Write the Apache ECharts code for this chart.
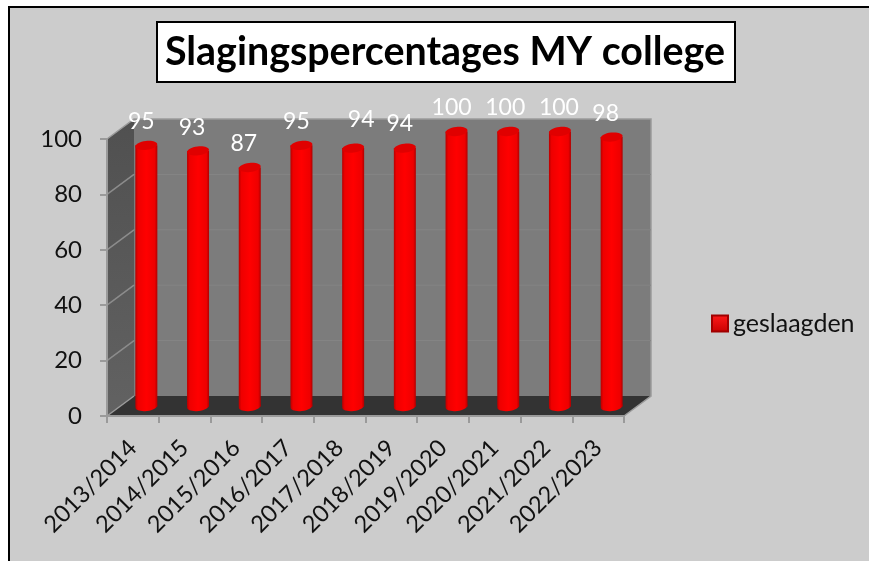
<!DOCTYPE html>
<html>
<head>
<meta charset="utf-8">
<style>html,body{margin:0;background:#fff}#chart{width:869px;height:561px}</style>
<script src="https://cdn.jsdelivr.net/npm/echarts@6/dist/echarts.min.js"></script>
</head>
<body>
<div id="chart"></div>
<script>
const categories = ['2013/2014','2014/2015','2015/2016','2016/2017','2017/2018','2018/2019','2019/2020','2020/2021','2021/2022','2022/2023'];
const geslaagden = [95,93,87,95,94,94,100,100,100,98];
const yTicks = [0,20,40,60,80,100];
// hand moved data labels in the original, [dx, dy] from the top of the bar
const labelNudge = [[-5,-24],[-6,-23],[-6,-24],[-5,-24],[8,-29],[-5,-25],[-5,-24],[-3,-24],[-1,-24],[-6,-23]];

const depthX = 27, depthY = -20;
const barRx = 11, barRy = 4.5;

const mychart = echarts.init(document.getElementById('chart'), null, { renderer: 'canvas' });

const renderWalls = (params, api) => {
    const r = params.coordSys;
    const x0 = r.x, x1 = r.x + r.width, yTop = r.y, yBot = r.y + r.height;
    const children = [
        { type: 'polygon', shape: { points: [[x0,yBot],[x0,yTop],[x0+depthX,yTop+depthY],[x0+depthX,yBot+depthY]] },
          style: { fill: new echarts.graphic.LinearGradient(0,0,0,1,[{offset:0,color:'#505050'},{offset:1,color:'#626262'}]) } },
        { type: 'rect', shape: { x: x0+depthX, y: yTop+depthY, width: r.width, height: r.height },
          style: { fill: '#7c7c7c' } },
        { type: 'polygon', shape: { points: [[x0,yBot],[x1,yBot],[x1+depthX,yBot+depthY],[x0+depthX,yBot+depthY]] },
          style: { fill: '#333333' } },
        { type: 'polyline', shape: { points: [[x0,yTop],[x0+depthX,yTop+depthY],[x1+depthX,yTop+depthY],[x1+depthX,yBot+depthY],[x1,yBot]] },
          style: { stroke: '#9a9a9a', lineWidth: 1.5, fill: 'none' } }
    ];
    yTicks.forEach(t => {
        const y = api.coord([0, t])[1];
        if (t > 0 && t < 100) {
            children.push({ type: 'line', shape: { x1: x0, y1: y, x2: x0+depthX, y2: y+depthY }, style: { stroke: '#8c8c8c', lineWidth: 1.5 } });
            children.push({ type: 'line', shape: { x1: x0+depthX, y1: y+depthY, x2: x1+depthX, y2: y+depthY }, style: { stroke: '#858585', lineWidth: 1 } });
        }
    });
    children.push({ type: 'line', shape: { x1: x0, y1: yBot, x2: x0+depthX, y2: yBot+depthY }, style: { stroke: '#9a9a9a', lineWidth: 1.5 } });
    return { type: 'group', children };
};

const renderBar = (params, api) => {
    const i = api.value(0);
    const top = api.coord([i, api.value(1)]);
    const bottom = api.coord([i, 0]);
    const cx = top[0] + depthX / 2;
    const yT = top[1] - 7.5;
    const yB = bottom[1] - 9.5;
    const nudge = labelNudge[params.dataIndex];
    const body = new echarts.graphic.LinearGradient(0,0,1,0,[
        {offset:0,color:'#b80000'},{offset:0.12,color:'#ee0000'},{offset:0.5,color:'#ff0000'},
        {offset:0.88,color:'#ee0000'},{offset:1,color:'#b00000'}]);
    return { type: 'group', children: [
        { type: 'ellipse', shape: { cx, cy: yB, rx: barRx, ry: barRy }, rotation: 0.12, originX: cx, originY: yB, style: { fill: body } },
        { type: 'rect', shape: { x: cx-barRx, y: yT, width: barRx*2, height: yB-yT }, style: { fill: body } },
        { type: 'ellipse', shape: { cx, cy: yT, rx: barRx, ry: barRy }, rotation: 0.12, originX: cx, originY: yT, style: { fill: '#e00000' } },
        { type: 'text', style: { text: String(api.value(1)), x: cx+nudge[0], y: yT+nudge[1], fill: '#fff',
            font: '23px Lato', textAlign: 'center', textVerticalAlign: 'middle' } }
    ] };
};

mychart.setOption({
    backgroundColor: '#ffffff',
    animation: false,
    graphic: [{ type: 'rect', z: -1, shape: { x: 9, y: 7, width: 880, height: 580 }, style: { fill: '#cccccc', stroke: '#000', lineWidth: 2 } }],
    title: {
        text: 'Slagingspercentages MY college',
        left: 157, top: 22,
        padding: [9, 10, 9, 8],
        backgroundColor: '#fff', borderColor: '#000', borderWidth: 2,
        textStyle: { fontFamily: 'Lato', fontWeight: 'bold', fontSize: 39.4, color: '#000', lineHeight: 42 }
    },
    legend: {
        data: ['geslaagden'], left: 706, top: 306, selectedMode: false, icon: 'rect',
        itemWidth: 16, itemHeight: 16, itemGap: 6,
        textStyle: { fontFamily: 'Lato', fontSize: 25, color: '#111' }
    },
    grid: { left: 107, right: 245, top: 139, bottom: 145 },
    xAxis: {
        type: 'category', data: categories,
        axisLine: { show: true, lineStyle: { color: '#9a9a9a', width: 2 } },
        axisTick: { show: true, length: 7, lineStyle: { color: '#9a9a9a', width: 2 } },
        axisLabel: { rotate: 45, margin: 28, interval: 0, fontFamily: 'Lato', fontSize: 23.5, color: '#111' },
        z: 5
    },
    yAxis: {
        type: 'value', min: 0, max: 100, interval: 20,
        axisLine: { show: true, lineStyle: { color: '#9a9a9a', width: 2 } },
        axisTick: { show: true, length: 7, lineStyle: { color: '#9a9a9a', width: 2 } },
        splitLine: { show: false },
        axisLabel: { margin: 25, fontFamily: 'Lato', fontSize: 24, color: '#111' },
        z: 5
    },
    series: [
        { type: 'custom', name: 'walls', silent: true, clip: false, z: 1, data: [[0, 0]], renderItem: renderWalls },
        { type: 'custom', name: 'geslaagden', clip: false, z: 3, encode: { x: 0, y: 1 },
          itemStyle: {
              color: new echarts.graphic.LinearGradient(0,0,0,1,[{offset:0,color:'#ff1a1a'},{offset:1,color:'#c80000'}]),
              borderColor: '#a00000', borderWidth: 1
          },
          data: geslaagden.map((v, i) => [i, v]), renderItem: renderBar }
    ]
});
</script>
</body>
</html>
